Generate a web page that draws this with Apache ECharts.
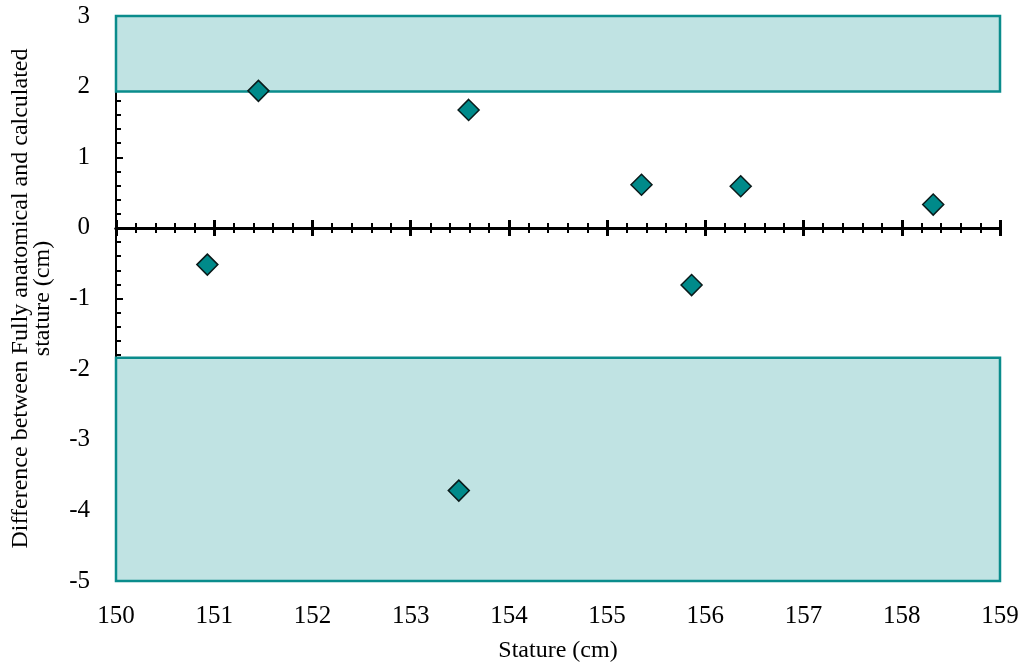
<!DOCTYPE html>
<html>
<head>
<meta charset="utf-8">
<script src="https://cdn.jsdelivr.net/npm/echarts@6/dist/echarts.min.js"></script>
<style>
html,body{margin:0;padding:0;background:#fff;}
#chart{width:1027px;height:666px;}
</style>
</head>
<body>
<div id="chart"></div>
<script>
const statureX = [150.93, 151.45, 153.59, 153.49, 155.35, 155.86, 156.36, 158.32];
const differenceY = [-0.52, 1.94, 1.67, -3.72, 0.61, -0.81, 0.59, 0.33];
const upperBand = [1.93, 3];
const lowerBand = [-5, -1.84];
const xRange = [150, 159];
const yRange = [-5, 3];
const xTitle = 'Stature (cm)';
const yTitle = 'Difference between Fully anatomical and calculated\nstature (cm)';

const font = 'Liberation Serif';
const points = statureX.map((x, i) => [x, differenceY[i]]);

const zeroAxis = (inside) => ({
  type: 'value', position: 'bottom', min: xRange[0], max: xRange[1], interval: 1,
  axisLine: { show: true, onZero: true, onZeroAxisIndex: 0, lineStyle: { color: '#000', width: 3 } },
  axisTick: { show: true, inside: inside, length: 8, lineStyle: { color: '#000', width: 3 } },
  minorTick: { show: true, splitNumber: 5, length: 5, lineStyle: { color: '#000', width: 2 } },
  axisLabel: { show: false }, splitLine: { show: false }
});

const chart = echarts.init(document.getElementById('chart'));
chart.setOption({
  animation: false,
  grid: { left: 116, top: 16, right: 27, bottom: 85, containLabel: false, outerBoundsMode: 'none' },
  xAxis: [
    {
      type: 'value', position: 'bottom', min: xRange[0], max: xRange[1], interval: 1,
      name: xTitle, nameLocation: 'middle', nameGap: 58,
      nameTextStyle: { fontFamily: font, fontSize: 24, color: '#000' },
      axisLine: { show: false, onZero: false },
      axisTick: { show: false },
      axisLabel: { fontFamily: font, fontSize: 25, color: '#000', margin: 23 },
      splitLine: { show: false }
    },
    zeroAxis(true),
    zeroAxis(false)
  ],
  yAxis: {
    type: 'value', min: yRange[0], max: yRange[1], interval: 1,
    name: yTitle, nameLocation: 'middle', nameGap: 62, nameRotate: 90,
    nameTextStyle: { fontFamily: font, fontSize: 24, color: '#000', lineHeight: 22 },
    axisLine: { show: true, onZero: false, lineStyle: { color: '#000', width: 2 } },
    axisTick: { show: true, inside: true, length: 7, lineStyle: { color: '#000', width: 2 } },
    minorTick: { show: true, splitNumber: 5, length: 5, lineStyle: { color: '#000', width: 2 } },
    axisLabel: { fontFamily: font, fontSize: 25, color: '#000', margin: 26 },
    splitLine: { show: false }
  },
  series: [{
    type: 'scatter',
    xAxisIndex: 0,
    yAxisIndex: 0,
    data: points,
    symbol: 'diamond',
    symbolSize: 21,
    itemStyle: { color: '#008a8a', borderColor: '#0a1a1a', borderWidth: 1.5, opacity: 1 },
    z: 5,
    markArea: {
      silent: true,
      itemStyle: { color: '#c0e3e3', borderColor: '#0a8c8c', borderWidth: 2.5 },
      data: [
        [{ xAxis: xRange[0], yAxis: upperBand[0] }, { xAxis: xRange[1], yAxis: upperBand[1] }],
        [{ xAxis: xRange[0], yAxis: lowerBand[0] }, { xAxis: xRange[1], yAxis: lowerBand[1] }]
      ]
    }
  }]
});
</script>
</body>
</html>
